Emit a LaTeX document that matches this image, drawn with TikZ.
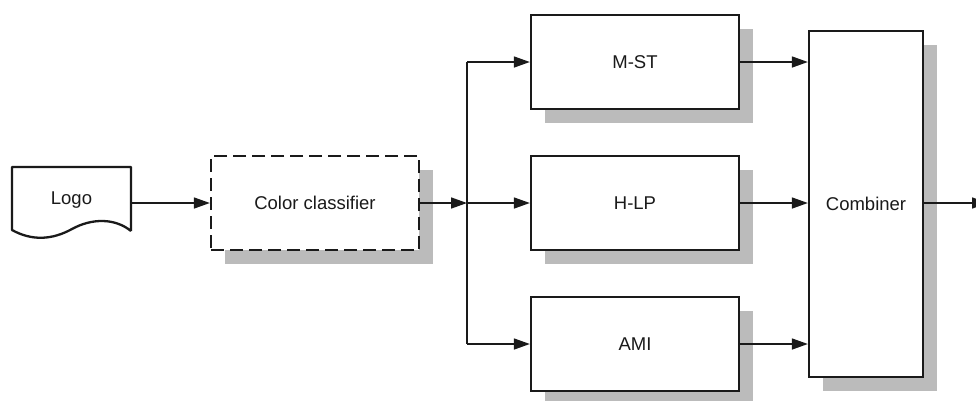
\documentclass[tikz,border=0pt]{standalone}
\usepackage{fontspec}
\setmainfont{Liberation Sans}
\usetikzlibrary{arrows.meta,shadows,calc}
\definecolor{ink}{HTML}{1A1A1A}
\definecolor{shade}{HTML}{BBBBBB}
\tikzset{
  blk/.style={draw=ink, line width=2.3pt, fill=white, text=ink,
    drop shadow={shadow xshift=14pt, shadow yshift=-14pt, fill=shade, opacity=1}},
  stage/.style={blk, minimum width=208pt, minimum height=94pt},
  flow/.style={draw=ink, line width=1.6pt, -{Triangle[length=16pt,width=11pt]}},
  wire/.style={draw=ink, line width=1.6pt},
}
\begin{document}
\begin{tikzpicture}[x=1pt, y=-1pt, font=\fontsize{18.5}{22}\selectfont, inner sep=0pt]
\useasboundingbox (0,0) rectangle (976,400);

% input document
\node[minimum width=119pt, minimum height=72pt, text=ink] (logo) at (71.5,203) {\raisebox{9pt}{Logo}};
\draw[ink, line width=2.3pt, line join=round]
  (131,231) -- (131,167) -- (12,167) -- (12,230)
  .. controls (32,241) and (52,240) .. (72,229)
  .. controls (92,218) and (115,218) .. (131,231);

% classifier (dashed)
\node[blk, dash pattern=on 13pt off 6pt, minimum width=208pt, minimum height=94pt] (cls) at (315,203) {Color classifier};

% three feature stages
\node[stage] (mst) at (635,62) {M-ST};
\node[stage] (hlp) at (635,203) {H-LP};
\node[stage] (ami) at (635,344) {AMI};

% combiner
\node[blk, minimum width=114pt, minimum height=346pt] (comb) at (866,204) {Combiner};

% branch point and output end
\coordinate (j) at (467,203);
\coordinate (out) at (988,203);

\draw[flow] (logo.east |- cls.west) -- (cls.west);
\draw[flow] (cls.east) -- (j);
\draw[wire] (j |- mst.west) -- (j |- ami.west);
\draw[flow] (j |- mst.west) -- (mst.west);
\draw[flow] (j) -- (hlp.west);
\draw[flow] (j |- ami.west) -- (ami.west);

\draw[flow] (mst.east) -- (mst.east -| comb.west);
\draw[flow] (hlp.east) -- (hlp.east -| comb.west);
\draw[flow] (ami.east) -- (ami.east -| comb.west);
\draw[flow] (comb.east |- out) -- (out);
\end{tikzpicture}
\end{document}
